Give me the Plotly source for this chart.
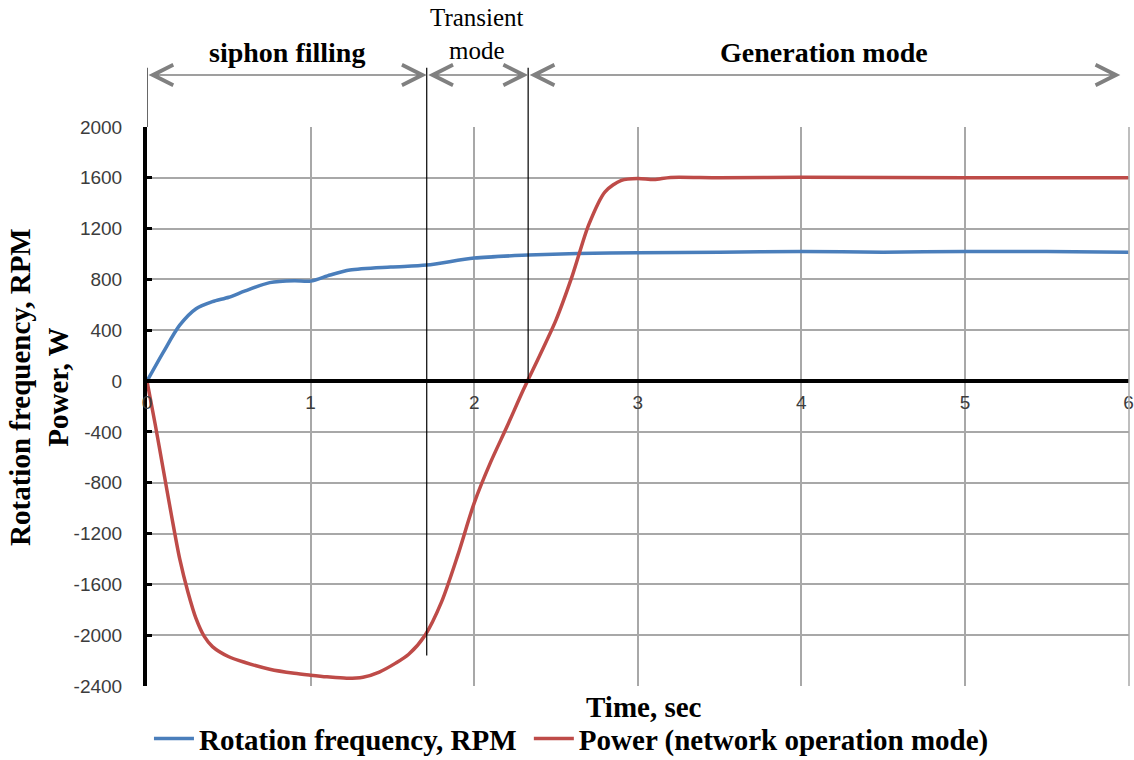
import plotly.graph_objects as go

# ---- data ----
t_rpm = [0, 0.1, 0.2, 0.3, 0.4, 0.5, 0.6, 0.75, 0.9, 1.0, 1.12, 1.24, 1.49, 1.71,
         2.0, 2.33, 2.63, 3.0, 3.5, 4.0, 4.5, 5.0, 5.5, 6.0]
rpm = [0, 228, 440, 570, 625, 660, 710, 775, 790, 787, 835, 874, 898, 913,
       968, 992, 1005, 1010, 1015, 1020, 1015, 1020, 1020, 1015]

t_pow = [0, 0.05, 0.1, 0.15, 0.2, 0.25, 0.3, 0.35, 0.4, 0.5, 0.6, 0.75, 0.9, 1.0,
         1.1, 1.22, 1.32, 1.42, 1.52, 1.6, 1.7, 1.8, 1.9, 2.0, 2.1, 2.2, 2.3,
         2.4, 2.5, 2.6, 2.7, 2.8, 2.9, 3.0, 3.1, 3.2, 3.5, 4.0, 5.0, 6.0]
power = [0, -340, -700, -1060, -1400, -1660, -1870, -2010, -2090, -2170, -2215, -2268, -2300, -2315,
         -2328, -2339, -2331, -2290, -2220, -2150, -2000, -1740, -1370, -960, -640, -360, -70,
         200, 480, 830, 1230, 1490, 1580, 1595, 1586, 1603, 1600, 1605, 1600, 1600]

phase_names = ["<b>siphon filling</b>", "Transient<br>mode", "<b>Generation mode</b>"]
phase_bounds = [0, 1.71, 2.33, 5.95]
line_bottoms = [None, -2160, 0]   # lower end of the vertical separators (data units)

y_ticks = list(range(-2400, 2001, 400))
x_ticks = [0, 1, 2, 3, 4, 5, 6]

SERIF = "Liberation Serif"
SANS = "Liberation Sans"
BLUE = "#4a7ebb"
RED = "#be4b48"
GRID = "#a8a8a8"
TICKC = "#3c3c3c"

fig = go.Figure()
fig.add_trace(go.Scatter(x=t_rpm, y=rpm, mode="lines", name="Rotation frequency, RPM&nbsp;",
                         line=dict(color=BLUE, width=3.5, shape="spline", smoothing=0.8)))
fig.add_trace(go.Scatter(x=t_pow, y=power, mode="lines", name="Power (network operation mode)",
                         line=dict(color=RED, width=3.5, shape="spline", smoothing=0.8)))

YMIN, YMAX = y_ticks[0], y_ticks[-1]
zero_pos = (0 - YMIN) / (YMAX - YMIN)

fig.update_layout(
    width=1134, height=760,
    margin=dict(l=147, r=5, t=127, b=74, autoexpand=False),
    paper_bgcolor="white", plot_bgcolor="white",
    showlegend=True,
    legend=dict(orientation="h", x=0.002, xanchor="left",
                yref="container", y=0.028, yanchor="middle",
                font=dict(family=SERIF, size=29, color="black", weight="bold"),
                itemwidth=40, bgcolor="rgba(0,0,0,0)", borderwidth=0),
    xaxis=dict(range=[0, 6.003], tickvals=x_ticks, ticktext=[str(v) for v in x_ticks],
               showgrid=True, gridcolor=GRID, gridwidth=1.5,
               showline=True, linecolor="black", linewidth=4,
               anchor="free", position=zero_pos, zeroline=False,
               ticks="", ticklabelstandoff=3, ticklabeloverflow="allow",
               tickfont=dict(family=SANS, size=19, color=TICKC)),
    yaxis=dict(range=[YMIN, YMAX], tickvals=y_ticks, ticktext=[str(v) for v in y_ticks],
               showgrid=True, gridcolor=GRID, gridwidth=1.5,
               showline=True, linecolor="black", linewidth=4,
               ticks="inside", ticklen=5, tickwidth=3, tickcolor="black",
               ticklabelstandoff=17, zeroline=False,
               tickfont=dict(family=SANS, size=19, color=TICKC)),
)

# right border like the reference
fig.add_shape(type="line", xref="paper", yref="paper", x0=1, x1=1, y0=0, y1=1,
              line=dict(color=GRID, width=1.5))

# axis titles
fig.add_annotation(text="<b>Rotation frequency, RPM<br>Power, W</b>", textangle=-90,
                   xref="paper", yref="paper", x=-0.110, y=0.535, showarrow=False,
                   xanchor="center", yanchor="middle",
                   font=dict(family=SERIF, size=29, color="black"))
fig.add_annotation(text="<b>Time, sec</b>", xref="paper", yref="paper", x=0.506, y=-0.038,
                   xanchor="center", yanchor="middle",
                   showarrow=False, font=dict(family=SERIF, size=29, color="black"))

# phase separators
ARROW_Y = 1.093
TOP_Y = 1.106
for i, tb in enumerate(phase_bounds[:3]):
    if line_bottoms[i] is None:
        y0p = 1.0
    else:
        y0p = (line_bottoms[i] - YMIN) / (YMAX - YMIN)
    fig.add_shape(type="line", xref="x", yref="paper", x0=tb, x1=tb, y0=y0p, y1=TOP_Y,
                  line=dict(color="black", width=1.2))

# double-headed arrows and labels
for i, name in enumerate(phase_names):
    a, b = phase_bounds[i], phase_bounds[i + 1]
    fig.add_annotation(x=b, y=ARROW_Y, ax=a, ay=0, xref="x", yref="paper",
                       axref="x", ayref="pixel", text="", showarrow=True,
                       arrowhead=5, startarrowhead=5, arrowside="end+start",
                       arrowsize=2.5, startarrowsize=2.5, arrowwidth=1.6, arrowcolor="#808080")
    if i == 1:
        fig.add_annotation(text=name, x=(a + b) / 2, y=1.110, xref="x", yref="paper",
                           showarrow=False, yanchor="bottom", xanchor="center",
                           font=dict(family=SERIF, size=25, color="black"))
    else:
        fig.add_annotation(text=name, x=(a + b) / 2, y=1.134, xref="x", yref="paper",
                           showarrow=False, yanchor="middle", xanchor="center",
                           font=dict(family=SERIF, size=28, color="black"))

fig.write_html("out.html")
